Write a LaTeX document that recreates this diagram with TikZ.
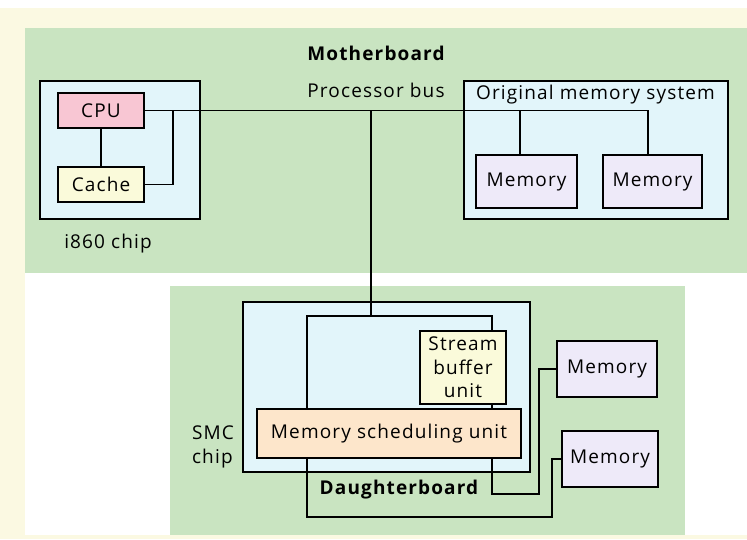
\documentclass[tikz,border=0pt]{standalone}
\usepackage{fontspec}
\setmainfont{Open Sans}[LetterSpace=6]
\definecolor{board}{HTML}{C9E4C1}
\definecolor{chip}{HTML}{E2F5FA}
\definecolor{cpuc}{HTML}{F8C6D3}
\definecolor{cachec}{HTML}{FAFADA}
\definecolor{memc}{HTML}{EEEAF9}
\definecolor{msuc}{HTML}{FDE6CB}
\definecolor{frame}{HTML}{FBF9E2}
\tikzset{
  box/.style={draw=black, line width=1.7pt, inner sep=0pt, align=center},
  wire/.style={draw=black, line width=1.7pt},
  lbl/.style={inner sep=0pt, align=center},
}
\begin{document}
\begin{tikzpicture}[x=1pt, y=-1pt, font=\fontsize{19}{23.5}\selectfont]
\useasboundingbox (0,0) rectangle (747,539);
\fill[white] (0,0) rectangle (747,539);
\fill[frame] (0,8) rectangle (747,539);
\fill[white] (25,28) rectangle (747,535);
% boards
\fill[board] (25,28) rectangle (747,273);
\fill[board] (170,286) rectangle (685,535);
\node[lbl, font=\fontsize{19}{23.5}\selectfont\bfseries] (mb) at (376,53) {Motherboard};
\node[lbl] (pb) at (376,90) {Processor bus};
\node[lbl] (db) at (399,490) {\bfseries Daughterboard};
% i860 chip
\node[box, fill=chip, minimum width=160pt, minimum height=138pt] (i860) at (120,150) {};
\node[lbl] (i860l) at (108,244) {i860 chip};
\node[box, fill=cpuc, minimum width=86pt, minimum height=35pt] (cpu) at (101,110.5) {CPU};
\node[box, fill=cachec, minimum width=86pt, minimum height=35pt] (cache) at (101,184.5) {Cache};
% original memory system
\node[box, fill=chip, minimum width=264pt, minimum height=138pt] (oms) at (596,150) {};
\node[lbl] (omsl) at (595.5,95) {Original memory system};
\node[box, fill=memc, minimum width=101pt, minimum height=53pt] (mem1) at (526.5,181.5) {Memory};
\node[box, fill=memc, minimum width=99pt, minimum height=53pt] (mem2) at (652.5,181.5) {Memory};
% SMC chip
\node[box, fill=chip, minimum width=287pt, minimum height=170pt] (smc) at (386.5,387) {};
\node[lbl, align=left] (smcl) at (213,447) {SMC\\chip};
\coordinate (tl) at (307,316);
\coordinate (tr) at (492,316);
% bus wires
\draw[wire] (cpu.south) -- (cache.north);
\draw[wire] (cache.east) -- (173,184.5) -- (173,110.5);
\draw[wire] (cpu.east) -- (648,110.5) -- ([xshift=-4.5pt]mem2.north);
\draw[wire] ([xshift=-6.5pt]mem1.north) -- ([xshift=-6.5pt]mem1.north |- cpu.east);
\draw[wire] (371,110.5) -- (371,316);
% inner SMC wiring
\node[box, fill=cachec, minimum width=86pt, minimum height=73pt] (sbu) at (463,367.5) {Stream\\buffer\\unit};
\node[box, fill=msuc, minimum width=264pt, minimum height=49pt] (msu) at (389,433.5) {Memory scheduling unit};
\draw[wire] (msu.north -| tl) -- (tl) -- (tr) -- (sbu.north -| tr);
\draw[wire] (sbu.south -| tr) -- (msu.north -| tr);
% daughterboard memories
\node[box, fill=memc, minimum width=100pt, minimum height=56pt] (mem3) at (607,369) {Memory};
\node[box, fill=memc, minimum width=96pt, minimum height=56pt] (mem4) at (610,459) {Memory};
\draw[wire] (msu.south -| tr) -- (492,494) -- (539,494) -- (539,369) -- (mem3.west);
\draw[wire] (msu.south -| tl) -- (307,517) -- (552,517) -- (552,459) -- (mem4.west);
\end{tikzpicture}
\end{document}
